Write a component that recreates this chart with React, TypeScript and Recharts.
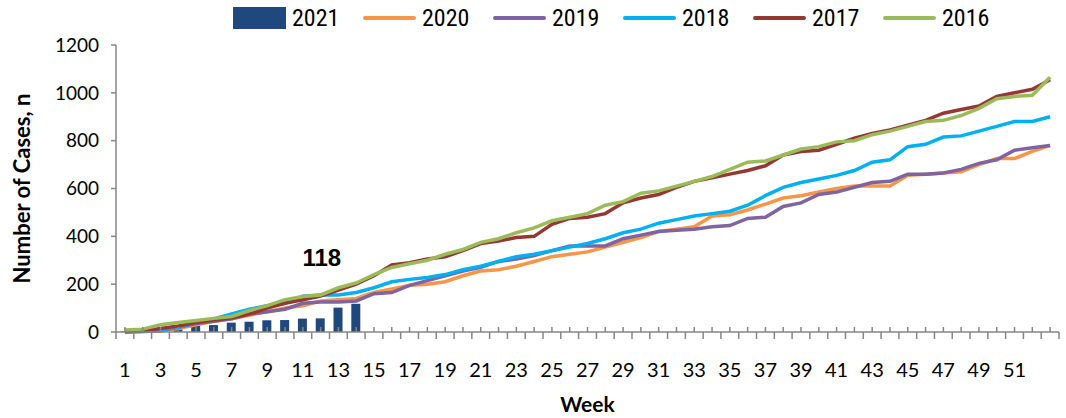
import { ComposedChart, Bar, Line, XAxis, YAxis, LabelList } from "recharts";

const weeks = Array.from({ length: 53 }, (_, i) => i + 1);

const cases2021 = [2, 4, 8, 12, 25, 29, 39, 43, 49, 50, 56, 57, 102, 118];

const cases2020 = [
  0, 2, 5, 15, 30, 45, 55, 70, 85, 100, 110, 130, 135, 140, 165, 180, 195, 200, 210, 235,
  255, 260, 275, 295, 315, 325, 335, 355, 375, 395, 420, 430, 440, 485, 490, 510, 535, 560,
  570, 585, 600, 610, 610, 610, 655, 660, 665, 670, 700, 725, 725, 755, 780,
];

const cases2019 = [
  0, 2, 5, 20, 35, 45, 55, 75, 85, 95, 120, 125, 125, 130, 160, 165, 195, 215, 235, 255,
  270, 295, 305, 320, 340, 360, 360, 360, 390, 405, 420, 425, 430, 440, 445, 475, 480, 525,
  540, 575, 585, 605, 625, 630, 660, 660, 665, 680, 705, 720, 760, 770, 780,
];

const cases2018 = [
  2, 3, 8, 20, 40, 55, 75, 95, 110, 120, 150, 155, 155, 165, 185, 210, 220, 228, 240, 260,
  275, 295, 315, 325, 340, 355, 370, 390, 415, 430, 455, 470, 485, 495, 505, 530, 570, 605,
  625, 640, 655, 675, 710, 720, 775, 785, 815, 820, 840, 860, 880, 880, 900,
];

const cases2017 = [
  2, 5, 15, 25, 40, 50, 60, 75, 100, 120, 135, 150, 175, 200, 235, 280, 290, 305, 315, 340,
  370, 380, 395, 400, 450, 475, 480, 495, 540, 560, 575, 605, 630, 645, 660, 675, 695, 740,
  755, 760, 785, 810, 830, 845, 865, 885, 915, 930, 945, 985, 1000, 1015, 1055,
];

const cases2016 = [
  8, 12, 30, 40, 48, 57, 65, 90, 110, 135, 148, 155, 185, 205, 240, 270, 285, 300, 325, 345,
  375, 390, 415, 435, 465, 480, 495, 530, 545, 580, 590, 610, 630, 650, 680, 710, 715, 740,
  765, 775, 795, 800, 825, 840, 860, 880, 885, 905, 935, 975, 985, 990, 1065,
];

const yTicks = [0, 200, 400, 600, 800, 1000, 1200];

const lineSeries = [
  { key: "y2020", name: "2020", color: "#F79646" },
  { key: "y2019", name: "2019", color: "#8064A2" },
  { key: "y2018", name: "2018", color: "#00B0F0" },
  { key: "y2017", name: "2017", color: "#953735" },
  { key: "y2016", name: "2016", color: "#9BBB59" },
];
const barColor = "#1F497D";

const data = weeks.map((w, i) => ({
  week: w,
  y2021: cases2021[i],
  y2020: cases2020[i],
  y2019: cases2019[i],
  y2018: cases2018[i],
  y2017: cases2017[i],
  y2016: cases2016[i],
}));

const W = 1066;
const H = 418;
const LEFT = 116;
const RIGHT = 7;
const BAND = (W - LEFT - RIGHT) / weeks.length;
const AXIS = "#868686";
const FONT = "Lato, 'Open Sans', sans-serif";

function WeekTick(props: any) {
  const { x, y, payload, index } = props;
  const last = index === weeks.length - 1;
  return (
    <g>
      <line x1={x} x2={x} y1={y} y2={y - 5} stroke={AXIS} strokeWidth={1.5} />
      <line x1={x - BAND / 2} x2={x - BAND / 2} y1={y} y2={y + 7} stroke={AXIS} strokeWidth={1.5} />
      {last && (
        <line x1={x + BAND / 2} x2={x + BAND / 2} y1={y} y2={y + 7} stroke={AXIS} strokeWidth={1.5} />
      )}
      {index % 2 === 0 && !last && (
        <text x={x} y={y + 45} textAnchor="middle" fontSize={20} fontFamily={FONT} fill="#000">
          {payload.value}
        </text>
      )}
    </g>
  );
}

function PeakLabel(props: any) {
  const { x, y, width, index, value } = props;
  if (index !== cases2021.length - 1) return null;
  return (
    <text
      x={x + width / 2 - 34}
      y={y - 38}
      textAnchor="middle"
      fontSize={24}
      fontWeight="bold"
      fontFamily="'Liberation Sans', Arial, sans-serif"
      fill="#000"
    >
      {value}
    </text>
  );
}

function LegendRow() {
  const items = [{ name: "2021", color: barColor, bar: true }, ...lineSeries.map((s) => ({ ...s, bar: false }))];
  return (
    <div
      style={{
        position: "absolute",
        top: 4,
        left: 233,
        display: "flex",
        alignItems: "center",
        fontFamily: "'Liberation Sans Narrow', 'Roboto Condensed', Lato, sans-serif",
        fontSize: 24,
        lineHeight: "28px",
      }}
    >
      {items.map((it) => (
        <div key={it.name} style={{ display: "flex", alignItems: "center", width: 130 }}>
          {it.bar ? (
            <span style={{ width: 53, height: 22, background: it.color, display: "inline-block" }} />
          ) : (
            <span style={{ width: 53, height: 4, background: it.color, display: "inline-block", borderRadius: 2 }} />
          )}
          <span style={{ marginLeft: 6 }}>{it.name}</span>
        </div>
      ))}
    </div>
  );
}

export default function App() {
  return (
    <div style={{ position: "relative", width: W, height: H, background: "#fff" }}>
      <style>{`body{margin:0}`}</style>
      <LegendRow />
      <ComposedChart
        width={W}
        height={H}
        data={data}
        margin={{ top: 45, right: RIGHT, left: 0, bottom: 0 }}
        barCategoryGap={0}
      >
        <XAxis
          dataKey="week"
          interval={0}
          height={86}
          tickSize={0}
          tickMargin={0}
          tickLine={false}
          axisLine={{ stroke: AXIS, strokeWidth: 1.5 }}
          tick={<WeekTick />}
          label={{
            value: "Week",
            position: "insideBottom",
            offset: 6,
            fontSize: 21,
            fontWeight: "bold",
            fontFamily: FONT,
            fill: "#000",
          }}
        />
        <YAxis
          width={LEFT}
          domain={[0, 1200]}
          ticks={yTicks}
          interval={0}
          tickSize={5}
          tickMargin={12}
          axisLine={{ stroke: AXIS, strokeWidth: 1.5 }}
          tickLine={{ stroke: AXIS, strokeWidth: 1.5 }}
          tick={{ fontSize: 19, fontFamily: FONT, fill: "#000" }}
          label={{
            value: "Number of Cases, n",
            angle: -90,
            position: "insideLeft",
            offset: 22,
            style: { textAnchor: "middle" },
            fontSize: 22,
            fontWeight: "bold",
            fontFamily: FONT,
            fill: "#000",
          }}
        />
        <Bar dataKey="y2021" name="2021" fill={barColor} barSize={9} isAnimationActive={false}>
          <LabelList dataKey="y2021" content={<PeakLabel />} />
        </Bar>
        {lineSeries.map((s) => (
          <Line
            key={s.key}
            dataKey={s.key}
            name={s.name}
            stroke={s.color}
            strokeWidth={3.5}
            dot={false}
            isAnimationActive={false}
          />
        ))}
      </ComposedChart>
    </div>
  );
}
